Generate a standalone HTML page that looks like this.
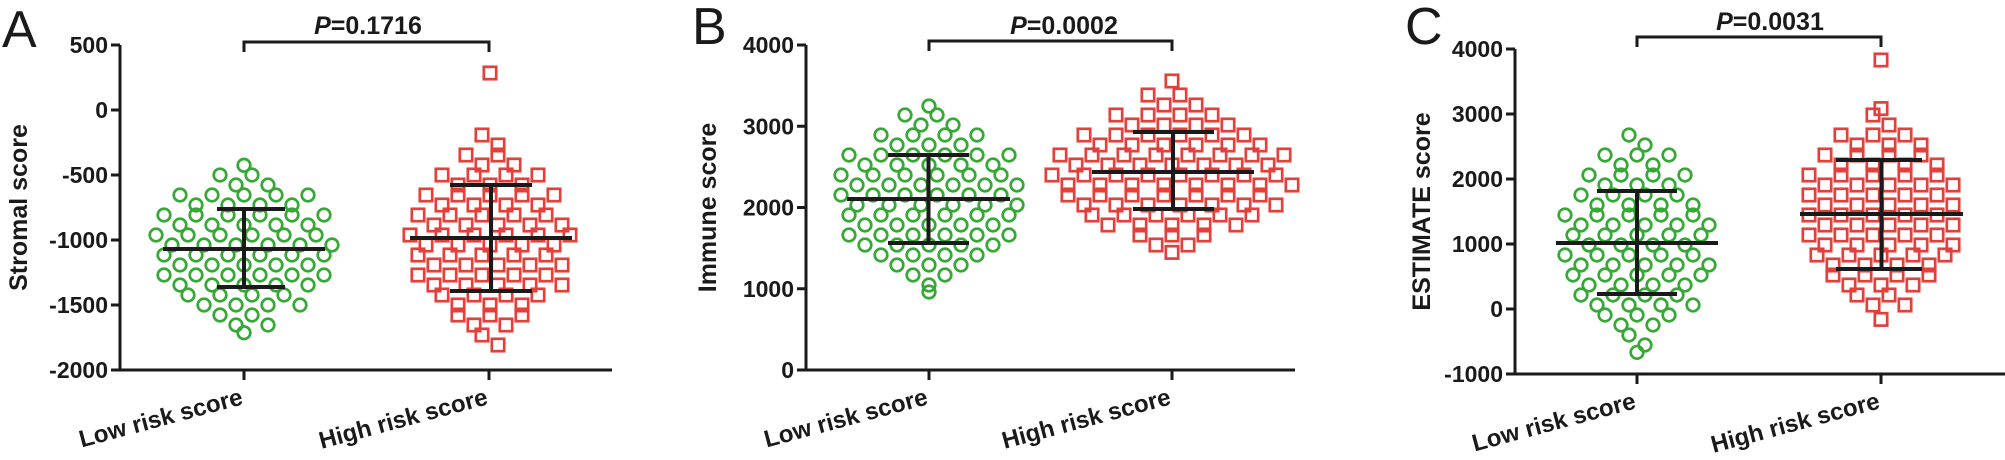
<!DOCTYPE html>
<html><head><meta charset="utf-8"><style>
html,body{margin:0;padding:0;background:#fff;}
svg{display:block;font-family:"Liberation Sans",Arial,sans-serif;}
</style></head><body>
<svg id="s" width="2005" height="460" viewBox="0 0 2005 460" xmlns="http://www.w3.org/2000/svg"></svg>
<script>
const S=document.getElementById('s');
let h='';
function probit(p){const a=[-39.69683028665376,220.9460984245205,-275.9285104469687,138.357751867269,-30.66479806614716,2.506628277459239],b=[-54.47609879822406,161.5858368580409,-155.6989798598866,66.80131188771972,-13.28068155288572],c=[-0.007784894002430293,-0.3223964580411365,-2.400758277161838,-2.549732539343734,4.374664141464968,2.938163982698783],d=[0.007784695709041462,0.3224671290700398,2.445134137142996,3.754408661907416];const pl=0.02425;let q,r;if(p<pl){q=Math.sqrt(-2*Math.log(p));return(((((c[0]*q+c[1])*q+c[2])*q+c[3])*q+c[4])*q+c[5])/((((d[0]*q+d[1])*q+d[2])*q+d[3])*q+1);}if(p>1-pl){q=Math.sqrt(-2*Math.log(1-p));return-(((((c[0]*q+c[1])*q+c[2])*q+c[3])*q+c[4])*q+c[5])/((((d[0]*q+d[1])*q+d[2])*q+d[3])*q+1);}q=p-0.5;r=q*q;return(((((a[0]*r+a[1])*r+a[2])*r+a[3])*r+a[4])*r+a[5])*q/(((((b[0]*r+b[1])*r+b[2])*r+b[3])*r+b[4])*r+1);}
function swarm(cx,mean,sd,n,extra,shape){
  const ys=[];for(let i=0;i<n;i++){const p=(i+0.5)/n;ys.push(mean+sd*(0.5*probit(p)+0.5*1.75*(2*p-1)));}
  extra.forEach(e=>ys.push(e));
  const bins={};ys.forEach(y=>{const k=Math.round(y/20);(bins[k]=bins[k]||[]).push(y);});
  for(const k in bins){const arr=bins[k];const m=arr.length;
    arr.forEach((y,j)=>{const x=cx+(j-(m-1)/2)*16;
      const yy=k*20+(m>1?((j%2)?5:-5):(y-k*20));
      if(shape==='c')h+=`<circle cx="${x}" cy="${yy}" r="6.3" fill="none" stroke="#35a835" stroke-width="2.7"/>`;
      else h+=`<rect x="${x-6.2}" y="${yy-6.2}" width="12.4" height="12.4" fill="none" stroke="#e3403b" stroke-width="2.7"/>`;});}
}
function err(x1,x2,ym,c1,c2,t1,t2){const cx=(x1+x2)/2;
  h+=`<g stroke="#1a1a1a" stroke-width="4"><line x1="${x1}" y1="${ym}" x2="${x2}" y2="${ym}"/><line x1="${cx}" y1="${t1}" x2="${cx}" y2="${t2}"/><line x1="${c1}" y1="${t1}" x2="${c2}" y2="${t1}"/><line x1="${c1}" y1="${t2}" x2="${c2}" y2="${t2}"/></g>`;}
function panel(o){
  const {ax,top,bot,end,t1,t2,ticks,yv,letter,lx,ly,title,tx,P,px,py,by}=o;
  h+=`<g stroke="#1a1a1a" stroke-width="3" fill="none"><line x1="${ax}" y1="${top}" x2="${ax}" y2="${bot+1.5}"/><line x1="${ax}" y1="${bot}" x2="${end}" y2="${bot}"/>`;
  ticks.forEach(v=>{h+=`<line x1="${ax-9}" y1="${yv(v)}" x2="${ax}" y2="${yv(v)}"/>`;});
  h+=`<line x1="${t1}" y1="${bot}" x2="${t1}" y2="${bot+10}"/><line x1="${t2}" y1="${bot}" x2="${t2}" y2="${bot+10}"/>`;
  h+=`<polyline points="${t1},${by+10} ${t1},${by} ${t2},${by} ${t2},${by+10}"/></g>`;
  ticks.forEach(v=>{h+=`<text x="${ax-12}" y="${yv(v)+8}" font-size="23" font-weight="bold" text-anchor="end" fill="#1a1a1a">${v}</text>`;});
  h+=`<text x="${lx}" y="${ly}" font-size="52" fill="#1a1a1a">${letter}</text>`;
  const my=(top+bot)/2;
  h+=`<text transform="translate(${tx},${my}) rotate(-90)" font-size="25" font-weight="bold" text-anchor="middle" fill="#1a1a1a">${title}</text>`;
  h+=`<text x="${px}" y="${py}" font-size="25" font-weight="bold" text-anchor="middle" fill="#1a1a1a"><tspan font-style="italic">P</tspan>=${P}</text>`;
  [[t1,'Low risk score'],[t2,'High risk score']].forEach(([x,s])=>{
    h+=`<text transform="translate(${x},${bot+34}) rotate(-15)" font-size="24" font-weight="bold" text-anchor="end" fill="#1a1a1a">${s}</text>`;});
}
const yA=v=>110-0.13*v;
panel({ax:120,top:45,bot:370,end:612,t1:244,t2:489,ticks:[500,0,-500,-1000,-1500,-2000],yv:yA,letter:'A',lx:2,ly:47,title:'Stromal score',tx:27,P:'0.1716',px:368,py:34,by:42});
swarm(244,249,40,72,[],'c');
swarm(490,243,48,76,[73,133],'s');
err(163,325,249,217,285,209,287);
err(410,572,238,450,532,185,291);
const yB=v=>370-0.08125*v;
panel({ax:806,top:45,bot:370,end:1295,t1:929,t2:1172,ticks:[4000,3000,2000,1000,0],yv:yB,letter:'B',lx:692,ly:44,title:'Immune score',tx:716,P:'0.0002',px:1064,py:34,by:41});
swarm(929,199,44,80,[],'c');
swarm(1172,176,36,84,[81,95,106],'s');
err(847,1010,199,888,969,155,243);
err(1092,1254,172,1133,1214,132,209);
const yC=v=>309-0.065*v;
panel({ax:1515,top:49,bot:374,end:2005,t1:1637,t2:1881,ticks:[4000,3000,2000,1000,0,-1000],yv:yC,letter:'C',lx:1405,ly:44,title:'ESTIMATE score',tx:1430,P:'0.0031',px:1770,py:30,by:37});
swarm(1637,243,52,76,[],'c');
swarm(1881,214,50,78,[60],'s');
err(1556,1718,243,1597,1677,191,294);
err(1800,1963,214,1836,1922,160,269);
S.innerHTML=h;
</script>
</body></html>
